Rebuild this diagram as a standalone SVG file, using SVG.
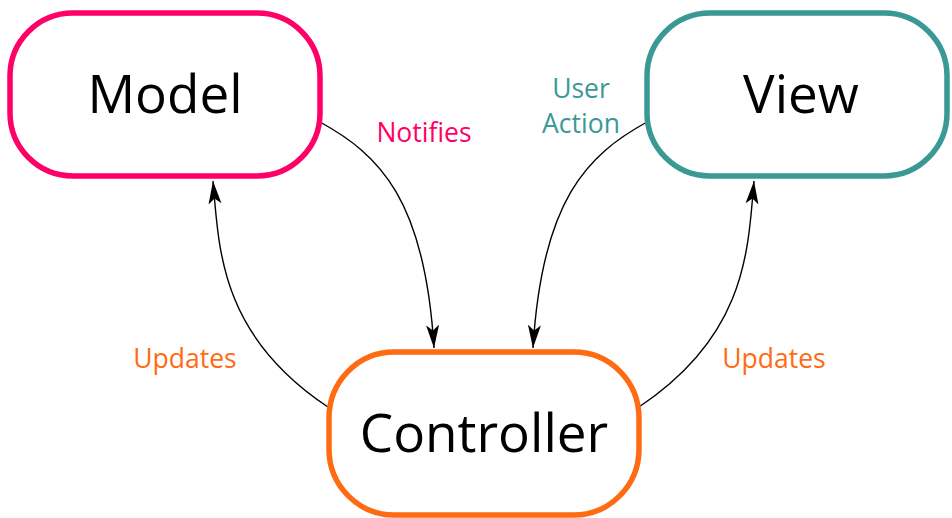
<svg xmlns="http://www.w3.org/2000/svg" width="952" height="518" viewBox="0 0 952 518">
  <style>
    .box { fill: #ffffff; stroke-width: 5.5; }
    .title { font-family: "Open Sans", "Noto Sans", "DejaVu Sans", sans-serif; font-size: 53px; fill: #000000; text-anchor: middle; }
    .label { font-family: "Open Sans", "Noto Sans", "DejaVu Sans", sans-serif; font-size: 26.5px; text-anchor: middle; }
    .edge { fill: none; stroke: #000000; stroke-width: 1.4; marker-end: url(#arrow); }
    .pink { fill: #ff0066; }
    .teal { fill: #3b9995; }
    .orange { fill: #ff6b12; }
  </style>
  <defs>
    <!-- notched black arrowhead, tip sits on the path end -->
    <marker id="arrow" markerUnits="userSpaceOnUse" markerWidth="24" markerHeight="16" refX="23" refY="8" orient="auto" viewBox="0 0 24 16">
      <path d="M0,1.5 L23,8 L0,14.5 L5.5,8 z" fill="#000000"/>
    </marker>
  </defs>

  <rect width="952" height="518" fill="#ffffff"/>

  <!-- connectors -->
  <g id="connectors">
    <path class="edge" d="M320,122 C380,155 425,200 434,348"/>
    <path class="edge" d="M647,122 C587,155 542,200 533,348"/>
    <path class="edge" d="M328,407 C220,335 219,250 213,181"/>
    <path class="edge" d="M639,407 C747,335 748,250 754,181"/>
    <text class="label pink" x="424" y="142">Notifies</text>
    <text class="label teal" x="581" y="98">User</text>
    <text class="label teal" x="581" y="133">Action</text>
    <text class="label orange" x="185" y="368">Updates</text>
    <text class="label orange" x="774" y="368">Updates</text>
  </g>

  <!-- Model -->
  <g id="model">
    <rect class="box" x="10" y="13" width="310" height="163" rx="63" ry="63" stroke="#ff0066"/>
    <text class="title" x="165" y="113">Model</text>
  </g>

  <!-- View -->
  <g id="view">
    <rect class="box" x="647" y="13" width="300" height="163" rx="63" ry="63" stroke="#3b9995"/>
    <text class="title" x="801" y="113">View</text>
  </g>

  <!-- Controller -->
  <g id="controller">
    <rect class="box" x="329" y="352" width="310" height="163" rx="65" ry="66" stroke="#ff6b12"/>
    <text class="title" x="484" y="452">Controller</text>
  </g>
</svg>
